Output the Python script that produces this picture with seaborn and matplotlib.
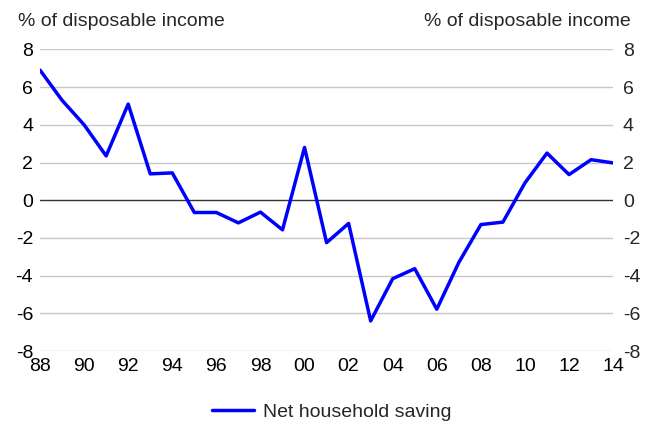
import matplotlib
matplotlib.use("Agg")
import matplotlib.pyplot as plt
import seaborn as sns
import pandas as pd

years = list(range(1988, 2015))
saving = [6.9, 5.3, 4.0, 2.35, 5.1, 1.4, 1.45, -0.65, -0.65, -1.2, -0.63, -1.57,
          2.8, -2.25, -1.23, -6.4, -4.16, -3.63, -5.78, -3.3, -1.29, -1.16,
          0.92, 2.5, 1.36, 2.15, 1.98]
y_ticks = [-8, -6, -4, -2, 0, 2, 4, 6, 8]
x_ticks = list(range(1988, 2015, 2))
x_labels = [f"{y % 100:02d}" for y in x_ticks]

sns.set_style("white")
plt.rcParams["font.family"] = ["Liberation Sans", "DejaVu Sans"]
FS = 14

df = pd.DataFrame({"year": years, "Net household saving": saving})

fig = plt.figure(figsize=(6.54, 4.22), dpi=100)
ax = fig.add_axes([0.0612, 0.168, 0.8763, 0.715])

for t in y_ticks:
    if t != 0:
        ax.axhline(t, color="#c8c8c8", lw=1.0, zorder=0)
ax.axhline(0, color="#333333", lw=1.0, zorder=1)

sns.lineplot(data=df, x="year", y="Net household saving", ax=ax,
             color="#0000ff", lw=2.5, label="Net household saving", zorder=3)

ax.set_xlim(1988, 2014)
ax.set_ylim(-8, 8)
ax.set_xticks(x_ticks)
ax.set_xticklabels(x_labels)
ax.set_yticks(y_ticks)
ax.set_yticklabels([str(t) for t in y_ticks])
ax.set_xlabel("")
ax.set_ylabel("")
ax.tick_params(axis="both", length=0, labelsize=FS, colors="black")
ax.tick_params(axis="x", pad=5)
ax.tick_params(axis="y", pad=5)
for s in ax.spines.values():
    s.set_visible(False)

ax2 = ax.twinx()
ax2.set_ylim(-8, 8)
ax2.set_yticks(y_ticks)
ax2.set_yticklabels([str(t) for t in y_ticks])
ax2.tick_params(axis="y", length=0, labelsize=FS, pad=7)
for s in ax2.spines.values():
    s.set_visible(False)

fig.text(0.028, 0.949, "% of disposable income", fontsize=FS, ha="left", va="center")
fig.text(0.964, 0.949, "% of disposable income", fontsize=FS, ha="right", va="center")

handles, labels = ax.get_legend_handles_labels()
ax.get_legend().remove()
fig.legend(handles, labels, loc="center", bbox_to_anchor=(0.507, 0.024), frameon=False,
           fontsize=FS, handlelength=2.15, handletextpad=0.45,
           borderpad=0, borderaxespad=0)

fig.savefig("out.png", dpi=100)
